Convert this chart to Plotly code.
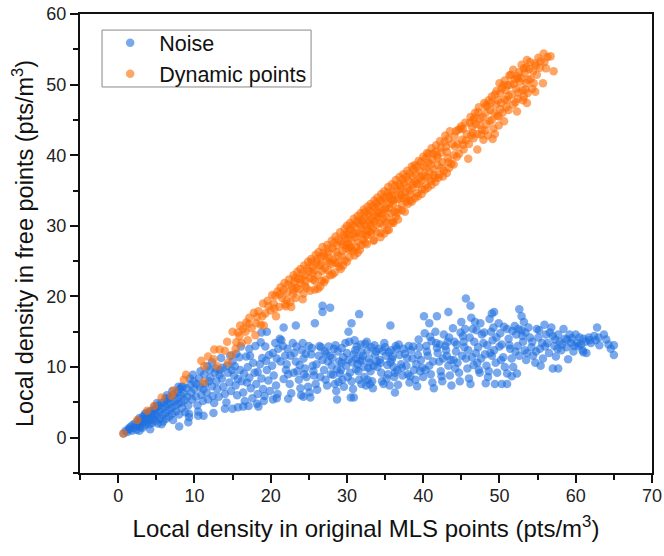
import plotly.graph_objects as go

FONT = "Liberation Sans, Arial, sans-serif"

noise_edge_low = [(0.7,0.6),(1.5,1.2),(2.8,1.0),(4.2,1.2),(5.7,1.9),(8.0,1.6),(9.2,2.2),(9.3,2.9),(10.5,3.1),(11.2,3.1),(12.5,3.5),(14.0,4.1),(15.0,4.1),(15.7,4.3),(16.4,4.4),(17.1,4.5),(18.2,4.8),(18.4,4.4),(19.1,5.2),(20.3,5.4),(20.8,5.6),(22.3,5.5),(24.0,6.0),(24.3,5.8),(25.2,5.7),(28.7,5.4),(30.5,5.7),(30.9,5.7)]
noise_edge_high = [(26.8,18.7),(26.8,17.8),(27.8,18.4),(25.8,16.2),(23.3,15.9),(21.7,15.6),(19.5,15.0),(18.8,14.9),(31.6,17.5),(30.6,16.2),(30.2,15.0),(35.7,15.9),(40.1,17.2),(40.8,16.2),(41.8,17.2),(43.3,17.8),(45.6,19.7),(46.2,18.7),(49.3,17.8),(49.0,17.6),(52.6,18.2),(52.9,17.2),(53.2,16.4)]
noise_start = [(1.0,1.0),(1.2,0.8),(1.4,1.3),(1.6,1.5),(1.8,1.0),(1.9,1.8),(2.1,1.4),(2.2,2.0),(2.4,1.1),(2.5,1.7),(2.6,2.4),(2.7,2.0),(2.9,1.5),(3.0,2.6),(3.1,2.1),(3.2,1.4),(3.3,3.0),(3.4,2.4),(3.5,1.8),(3.6,3.3),(3.7,2.8),(3.8,2.2),(3.9,3.6),(4.0,3.0),(4.1,1.9),(4.2,2.5),(4.3,3.8),(4.4,3.3),(4.5,2.1),(4.6,2.8),(4.7,3.9),(4.8,3.4),(4.9,2.4),(5.0,4.2),(5.1,3.1),(5.2,2.0),(5.3,4.5),(5.4,3.7),(5.5,2.7),(5.6,4.9),(5.7,4.1),(5.8,3.2),(5.9,2.3),(6.0,5.0),(6.1,4.4),(6.2,3.5),(6.3,2.7),(6.4,5.4),(6.5,4.7),(6.6,3.9),(6.7,3.0),(6.8,5.7),(6.9,5.0),(7.0,4.2),(7.1,3.4),(7.2,2.5),(7.3,6.1),(7.4,5.2),(7.5,4.5),(7.6,3.7),(7.7,6.4),(7.8,5.6),(7.9,4.8),(8.0,3.3),(8.1,6.9),(8.2,6.0),(8.3,5.0),(8.4,4.2),(8.5,7.2),(8.6,6.3),(8.7,5.3),(8.8,3.6),(9.0,7.0),(9.1,5.8),(9.2,4.6),(9.3,3.4)]
noise_rise = [(9.5,7.5),(9.6,6.4),(9.7,5.4),(9.9,8.0),(10.0,6.9),(10.2,5.8),(10.4,4.6),(10.5,3.7),(10.6,8.4),(10.7,7.2),(10.9,6.1),(11.1,5.2),(11.3,9.0),(11.4,7.6),(11.6,6.4),(11.8,5.4),(12.0,9.6),(12.1,8.5),(12.3,7.3),(12.4,5.9),(12.6,4.9),(12.7,9.2),(12.9,8.0),(13.0,6.9),(13.2,5.8),(13.4,9.6),(13.6,8.4),(13.8,7.2),(14.0,6.2),(14.2,5.0),(14.4,9.2),(14.6,7.8),(14.8,6.6),(15.0,10.8),(15.2,8.8),(15.4,7.4),(15.6,6.0),(15.9,11.4),(16.0,9.6),(16.2,8.0),(16.4,6.4),(16.6,5.2),(16.8,11.5),(17.0,10.0),(17.2,8.5),(17.4,7.0),(17.6,5.6),(17.9,9.2),(18.1,7.6),(18.3,6.2),(18.6,10.4),(18.8,8.4),(19.0,6.9),(19.2,5.9),(19.5,9.6),(19.7,8.1),(19.9,6.6),(20.2,10.2),(20.4,8.8),(20.7,7.4),(20.9,6.2)]
noise_20_30 = [(21.0,12.6),(21.2,14.0),(21.4,13.8),(21.6,13.0),(21.9,11.6),(22.1,10.4),(22.3,9.0),(22.5,7.6),(22.7,6.3),(22.9,13.4),(23.1,12.0),(23.3,10.8),(23.5,9.4),(23.7,8.2),(23.9,7.0),(24.1,12.4),(24.3,11.2),(24.5,9.8),(24.7,8.6),(24.9,7.2),(25.1,6.4),(25.3,11.8),(25.5,10.2),(25.7,8.8),(25.9,7.6),(26.1,6.8),(26.4,13.0),(26.6,12.8),(26.8,11.0),(27.0,9.6),(27.2,8.2),(27.4,7.4),(27.6,12.9),(27.8,11.6),(28.0,10.2),(28.2,8.9),(28.4,7.6),(28.6,6.6),(28.8,12.2),(29.0,10.8),(29.2,9.6),(29.4,8.2),(29.6,7.2),(29.8,13.4),(30.0,12.0),(30.2,11.0),(30.4,9.2),(30.6,8.0),(30.8,6.9),(24.2,13.4),(25.0,13.0),(22.2,12.6),(20.8,11.2),(23.0,9.2),(26.0,10.4),(27.5,10.8),(28.5,13.1),(29.5,11.4)]
noise_30_40 = [(31.0,13.8),(31.1,12.4),(31.2,11.2),(31.4,10.4),(31.5,9.4),(31.6,8.2),(31.8,13.2),(31.9,12.1),(32.0,11.0),(32.2,10.0),(32.3,8.6),(32.5,7.4),(32.6,13.6),(32.7,12.4),(32.9,11.2),(33.0,10.6),(33.1,9.4),(33.3,8.0),(33.4,7.0),(33.6,13.1),(33.7,11.8),(33.9,10.8),(34.0,10.0),(34.2,12.6),(34.3,11.0),(34.5,9.2),(34.6,8.0),(34.8,7.6),(35.0,12.8),(35.1,11.6),(35.3,10.3),(35.4,9.0),(35.6,7.4),(35.8,12.4),(35.9,11.1),(36.1,10.0),(36.2,8.6),(36.3,6.4),(36.4,13.0),(36.5,12.6),(36.6,9.6),(36.7,7.5),(36.9,11.7),(37.1,10.4),(37.3,8.8),(37.6,11.9),(37.8,10.2),(38.0,9.0),(38.2,7.8),(38.4,12.4),(38.6,11.2),(38.8,9.6),(39.0,8.2),(39.2,7.3),(39.4,13.9),(39.5,12.8),(39.7,11.0),(39.9,9.9),(40.0,8.6),(40.2,14.8),(40.4,13.0),(40.6,11.6),(40.8,10.2),(41.0,9.0),(41.2,7.8),(41.4,7.0)]
noise_40_50 = [(41.6,15.0),(41.7,13.4),(41.9,12.0),(42.1,10.8),(42.3,9.4),(42.5,8.0),(42.7,14.6),(42.9,13.0),(43.1,11.6),(43.3,10.2),(43.5,8.8),(43.7,7.4),(43.9,15.5),(44.1,13.6),(44.3,12.2),(44.5,10.6),(44.7,9.2),(44.8,8.0),(45.0,16.4),(45.2,14.4),(45.4,12.8),(45.6,11.2),(45.8,9.8),(46.0,8.4),(46.2,7.6),(46.3,17.0),(46.5,15.4),(46.7,13.6),(46.9,12.0),(47.1,10.6),(47.3,9.6),(47.5,16.2),(47.7,14.6),(47.9,13.4),(48.1,11.8),(48.3,10.2),(48.5,8.6),(48.2,7.7),(48.7,16.8),(48.9,15.0),(49.1,13.8),(49.3,12.4),(49.5,10.6),(49.7,9.2),(49.4,7.6),(49.9,16.2),(50.1,14.8),(50.3,13.2),(50.5,11.4),(50.7,10.0),(50.3,7.6),(51.0,7.6),(51.0,9.1),(51.6,8.7),(52.3,9.1),(42.2,13.2),(44.0,11.0),(46.4,11.4),(47.6,11.2),(49.0,11.6),(43.2,13.6),(45.3,13.6)]
noise_50_65 = [(51.0,15.4),(51.2,14.0),(51.4,12.6),(51.6,11.2),(51.8,10.0),(52.0,15.8),(52.2,14.6),(52.4,13.0),(52.6,11.6),(52.9,15.2),(53.1,13.6),(53.3,12.4),(53.5,11.0),(53.8,15.6),(54.0,14.2),(54.2,12.8),(54.4,11.6),(54.7,10.6),(54.9,15.4),(55.1,14.2),(55.3,12.6),(55.4,10.2),(55.7,11.2),(55.9,16.0),(56.1,14.6),(56.3,13.4),(56.5,12.0),(56.8,15.6),(57.0,14.4),(57.2,13.0),(57.4,11.5),(57.0,9.8),(57.7,9.8),(57.7,14.6),(57.9,13.6),(58.1,12.4),(58.4,15.4),(58.6,14.0),(58.8,12.8),(59.0,11.1),(59.2,14.6),(59.4,13.4),(59.7,12.2),(60.0,14.6),(60.2,13.4),(60.5,14.2),(60.7,13.2),(61.0,12.1),(61.4,12.0),(61.3,13.6),(61.7,14.2),(62.0,13.4),(62.4,14.4),(62.8,15.6),(63.0,14.2),(63.1,13.1),(63.7,14.6),(64.0,13.9),(64.3,13.2),(64.6,12.6),(65.0,13.1),(65.0,11.7)]
noise_fill_a = [(29.3,12.7),(31.3,12.9),(30.7,10.7),(32.4,13.3),(29.1,9.1),(33.8,12.2),(31.7,10.9),(30.3,13.6),(34.9,13.4),(32.8,9.9),(28.1,11.3),(33.2,12.8),(27.1,12.2),(30.9,11.8),(35.5,12.1),(31.2,9.7),(34.4,10.6),(29.9,10.2),(32.1,11.6),(36.8,13.2),(33.5,10.2),(37.4,12.6),(30.1,8.6),(28.9,7.9),(35.2,8.4),(36.0,11.5),(38.1,13.0),(32.7,8.2),(34.7,12.3),(37.9,11.3),(39.1,10.4),(31.9,7.6),(33.0,7.6),(38.7,12.9),(36.3,9.2),(35.7,10.7),(37.2,9.9),(39.6,9.4),(40.5,12.2),(41.3,10.8),(38.3,8.7),(40.3,9.6),(41.8,12.7),(42.6,11.2),(39.3,11.7),(43.0,12.4),(42.4,8.7),(43.6,11.0),(44.4,13.2),(41.1,13.7),(40.9,14.3),(44.2,9.8),(45.1,11.6),(45.9,12.4),(44.9,14.9),(46.1,14.2),(43.4,14.2),(46.6,10.3),(47.2,12.8),(47.0,15.2),(45.5,15.4),(48.4,13.1),(48.0,14.9),(46.8,16.4),(48.8,12.0),(49.6,14.2),(49.2,15.6),(50.0,12.9),(47.4,9.2),(50.6,15.7),(48.6,9.4),(50.2,11.0),(51.3,13.1),(51.7,15.1),(52.1,12.2),(52.5,15.4),(53.0,14.4),(53.6,12.0),(53.4,14.9),(54.3,13.6),(54.8,12.2),(55.2,15.2),(55.6,13.4),(56.0,12.9),(56.6,14.9),(57.3,13.9),(57.6,12.6),(58.2,13.2),(58.9,13.9),(59.5,14.1),(59.8,13.0),(60.4,13.0),(61.0,14.0),(61.8,13.8),(62.6,13.8),(60.9,12.4)]
noise_fill_b = [(11.2,6.9),(12.8,9.8),(10.3,7.6),(13.3,8.9),(14.3,10.2),(11.9,8.0),(15.3,10.1),(13.7,9.9),(16.5,9.1),(14.9,9.6),(17.3,11.6),(15.7,8.3),(18.3,9.3),(16.9,7.8),(18.9,11.3),(17.7,10.6),(19.4,10.9),(20.3,12.0),(19.8,11.7),(18.0,13.0),(19.3,12.9),(20.6,13.4),(21.3,10.8),(22.6,11.6),(21.7,8.3),(23.4,12.9),(22.0,9.6),(24.6,11.9),(23.8,10.3),(25.4,12.7),(24.4,9.0),(26.3,11.6),(25.6,9.4),(27.3,11.9),(26.5,8.6),(27.9,9.0),(28.3,12.6),(29.3,10.6),(28.7,9.7),(16.1,12.9),(17.2,12.6),(18.7,13.5),(8.3,7.2),(9.4,8.4),(10.8,9.4),(6.4,6.0),(7.1,6.6),(5.1,4.9),(3.5,3.4),(2.8,2.8),(4.8,4.4),(6.2,5.6),(7.9,7.2),(9.8,8.9),(11.7,10.1),(12.3,10.7),(13.5,11.3),(14.7,11.6),(15.5,11.9)]

dynamic_low = [(0.7,0.6),(2.5,2.5),(3.8,3.8),(4.7,4.5),(5.7,5.7),(7.0,5.9),(7.3,6.7),(8.6,8.2),(8.9,8.9),(11.2,7.9),(10.9,10.9),(11.3,10.1),(11.8,11.5),(12.5,11.1),(13.0,10.1),(12.6,12.5),(13.3,12.5),(14.0,12.3),(14.3,13.6),(15.0,15.0),(14.4,10.6),(14.9,11.7),(15.5,13.5),(15.4,12.6),(16.0,15.9),(16.8,16.3),(15.9,14.4),(16.2,13.4),(16.7,15.0),(17.0,13.8),(17.2,17.0),(17.5,15.5),(17.8,17.7),(18.1,16.2),(18.4,17.9),(18.0,14.5),(18.7,16.0),(19.0,19.0),(19.3,17.6),(19.6,19.4),(20.0,18.0),(20.2,20.2),(20.4,19.0),(20.7,17.2),(20.9,20.7),(21.1,18.5)]
dynamic_20_30 = [(21.3,21.3),(21.5,19.8),(21.8,21.9),(22.0,18.6),(22.2,20.6),(22.4,22.4),(22.6,19.2),(22.8,21.4),(23.0,23.0),(23.1,22.0),(23.3,19.8),(23.5,23.5),(23.7,21.0),(23.9,23.9),(24.0,22.4),(24.2,19.6),(24.4,24.4),(24.5,23.0),(24.7,21.2),(24.9,24.9),(25.0,23.6),(25.2,20.8),(25.3,25.3),(25.5,24.2),(25.6,22.4),(25.8,21.0),(25.9,25.9),(26.0,24.8),(26.2,23.0),(26.3,26.3),(26.5,21.4),(26.6,25.6),(26.7,22.2),(26.8,27.0),(27.0,25.8),(27.1,24.0),(27.2,22.4),(27.4,27.3),(27.5,26.2),(27.7,24.8),(27.8,23.0),(28.0,27.9),(28.1,26.8),(28.2,25.2),(28.4,23.4),(28.5,28.5),(28.7,27.2),(28.8,25.8),(29.0,24.2),(29.1,29.1),(29.2,27.8),(29.4,26.4),(29.5,24.4),(29.7,29.6),(29.8,28.4),(29.9,26.8)]
dynamic_30_36 = [(30.0,30.0),(30.1,28.8),(30.2,27.4),(30.3,25.6),(30.4,30.4),(30.5,29.4),(30.6,28.0),(30.8,26.4),(30.9,31.0),(31.0,29.9),(31.1,28.4),(31.2,27.0),(31.4,31.4),(31.5,30.4),(31.6,29.0),(31.7,26.6),(31.8,31.8),(31.9,30.8),(32.0,29.6),(32.1,28.0),(32.2,32.3),(32.3,31.2),(32.4,30.0),(32.5,28.6),(32.6,27.4),(32.7,32.7),(32.8,31.6),(32.9,30.4),(33.0,29.2),(33.1,33.1),(33.2,32.0),(33.3,31.0),(33.4,29.6),(33.5,28.0),(33.6,33.6),(33.7,32.6),(33.8,31.4),(33.9,30.2),(34.0,34.0),(34.1,32.8),(34.2,31.8),(34.3,30.4),(34.4,29.0),(34.5,34.5),(34.6,33.4),(34.7,32.2),(34.8,31.0),(34.9,34.9),(35.0,33.8),(35.1,32.6),(35.2,31.2),(35.3,29.4),(35.4,35.5),(35.5,34.2),(35.6,33.2),(35.7,31.8),(35.8,30.4),(35.9,35.9),(36.0,34.8),(36.1,33.6),(36.2,32.0),(36.1,30.4)]
dynamic_36_44 = [(36.4,36.5),(36.5,35.0),(36.6,33.8),(36.7,32.4),(36.9,36.9),(37.0,35.6),(37.1,34.4),(37.2,33.0),(37.4,37.3),(37.5,36.0),(37.6,34.8),(37.8,33.4),(37.9,37.8),(38.0,36.4),(38.2,35.0),(38.3,33.6),(38.5,38.4),(38.6,37.0),(38.6,35.4),(38.9,38.6),(39.0,37.4),(39.1,36.0),(39.2,34.6),(39.4,39.2),(39.5,37.8),(39.7,36.4),(39.8,35.2),(40.0,39.8),(40.1,38.4),(40.2,37.0),(40.4,35.8),(40.5,40.3),(40.7,39.0),(40.8,37.6),(41.0,36.4),(41.1,41.0),(41.2,39.4),(41.4,38.0),(41.5,36.8),(41.7,41.4),(41.8,40.0),(41.9,38.6),(42.1,37.2),(42.2,42.0),(42.4,40.4),(42.5,39.0),(42.7,37.8),(42.9,42.8),(43.0,41.2),(43.2,39.6),(43.4,38.2),(43.7,38.8),(43.5,43.4),(43.8,41.6),(44.0,40.0),(44.3,43.4)]
dynamic_44_50 = [(44.5,41.6),(44.7,40.2),(44.9,43.8),(45.1,42.2),(45.3,40.8),(45.9,39.5),(45.5,44.6),(45.7,43.0),(46.0,41.6),(46.2,45.4),(46.4,44.0),(46.6,42.4),(46.8,46.0),(46.9,44.4),(47.1,40.8),(47.1,43.0),(47.3,46.8),(47.5,45.2),(47.7,43.6),(47.9,42.2),(48.0,47.4),(48.2,46.0),(48.3,44.4),(48.5,42.8),(48.6,47.8),(48.8,46.4),(49.0,45.0),(49.1,42.3),(49.2,43.8),(49.4,43.0),(49.4,48.6),(49.5,47.2),(49.7,45.6),(49.9,44.2),(50.0,50.2),(50.1,48.8),(50.2,47.4),(50.4,46.0),(50.6,44.8),(50.7,50.6),(50.8,49.2),(51.0,47.8),(51.2,46.4)]
dynamic_50_57 = [(51.3,51.3),(51.4,50.0),(51.6,48.6),(51.8,47.2),(51.8,52.1),(52.0,50.8),(52.2,49.4),(52.3,46.2),(52.4,48.0),(52.6,51.8),(52.7,50.4),(52.9,52.8),(53.0,49.2),(53.1,47.8),(53.3,51.6),(53.5,50.2),(53.6,53.5),(53.6,47.4),(53.7,48.8),(53.9,52.2),(54.1,50.8),(54.3,49.4),(54.6,53.0),(54.7,49.0),(54.9,51.4),(55.1,53.8),(55.3,52.4),(55.7,50.2),(55.8,54.4),(55.9,53.2),(56.1,52.3),(56.7,54.0),(57.1,51.9)]
dynamic_fill_a = [(20.6,20.1),(21.7,20.9),(22.3,21.7),(23.2,22.6),(22.9,20.3),(24.1,23.3),(23.6,22.5),(24.8,24.0),(25.4,24.9),(24.6,22.2),(26.1,25.3),(25.7,23.7),(26.9,26.2),(26.4,24.4),(27.6,26.8),(27.3,25.1),(28.3,27.6),(28.0,24.6),(28.9,28.1),(28.6,26.3),(29.6,28.7),(29.3,25.7),(30.2,29.3),(29.8,27.3),(30.7,30.1),(30.4,27.0),(31.3,30.7),(30.9,28.9),(31.8,30.1),(31.5,27.7),(32.3,31.9),(32.0,28.8),(32.9,32.1),(32.6,29.4),(33.4,32.8),(33.0,30.8),(33.9,33.2),(33.6,30.7),(34.4,33.6),(34.1,31.2),(34.9,34.1),(34.6,31.7),(35.4,34.8),(35.1,30.5),(35.9,34.3),(35.6,32.5),(36.3,35.7),(36.0,33.1),(36.9,35.9),(36.6,31.9),(37.3,36.6),(37.0,34.9),(37.8,36.9),(37.4,33.9),(38.2,37.4),(37.9,35.4),(38.7,38.0),(38.3,34.4),(39.2,38.4),(38.9,36.3),(39.7,39.0),(39.4,35.9),(40.3,39.5),(39.9,37.1),(40.7,40.2),(40.4,38.1),(41.3,40.2),(41.0,38.7)]
dynamic_fill_b = [(17.1,16.1),(18.2,17.1),(18.9,17.2),(19.7,18.6),(20.5,18.3),(19.1,15.9),(16.4,15.4),(15.7,14.9),(41.6,40.5),(42.3,41.1),(41.9,39.6),(42.8,41.9),(43.3,42.3),(43.1,40.5),(44.1,42.7),(44.6,43.6),(44.2,41.2),(45.2,43.7),(45.6,42.1),(46.1,44.6),(46.5,43.2),(46.7,45.3),(47.4,44.3),(47.2,46.1),(47.8,45.4),(48.1,43.5),(48.4,46.9),(48.9,47.5),(49.3,46.0),(49.8,47.8),(49.6,49.1),(50.3,49.5),(50.1,46.5),(50.7,47.9),(51.1,49.9),(51.5,51.4),(51.2,48.4),(51.9,50.1),(52.3,51.2),(52.5,48.9),(52.9,50.9),(53.2,52.3),(53.4,49.3),(53.8,50.7),(54.0,53.2),(54.4,51.9)]
dynamic_fill_c = [(21.9,18.9),(22.7,18.5),(23.4,21.2),(24.3,20.4),(25.1,22.6),(25.8,22.2),(26.7,23.6),(26.2,21.1),(27.5,23.7),(27.0,22.0),(28.1,23.1),(28.8,24.7),(29.2,23.9),(29.7,25.1),(30.0,24.9),(30.6,26.9),(30.2,28.2),(31.0,25.8),(31.4,26.2),(31.9,27.3),(32.4,27.6),(32.7,28.7),(33.2,29.0),(33.5,27.9),(33.9,29.1),(34.4,28.4),(34.8,30.1),(34.9,28.9),(35.5,29.4),(36.0,30.6),(36.4,31.3),(36.7,30.9),(37.2,32.2),(37.6,32.0),(38.0,33.1),(38.5,33.4),(38.9,33.9),(39.3,34.2),(39.8,34.5),(40.2,35.1),(40.6,35.4),(41.1,35.8),(41.6,36.2),(42.0,36.8),(42.6,37.0),(43.1,37.5),(44.0,38.7),(21.2,20.3),(22.1,19.5),(23.0,20.9),(23.9,21.9),(24.5,21.5),(25.5,23.3),(26.6,24.5),(27.7,25.5),(28.5,24.8),(29.4,27.4),(30.3,26.6),(31.2,28.9),(32.1,30.7),(33.1,30.0),(34.0,31.9),(35.0,32.4),(35.8,33.7),(36.8,33.9),(37.7,34.0),(38.6,35.9),(39.6,36.8),(40.6,36.9),(41.4,37.2),(42.4,38.2),(43.3,39.0),(44.4,39.8),(45.2,41.5),(46.3,42.8),(47.6,42.9),(48.7,44.9),(49.9,45.5),(50.9,46.8),(52.1,47.5),(53.2,48.3),(54.5,50.2),(45.0,44.1),(46.6,45.0),(48.2,47.1),(49.0,48.3),(50.5,49.9),(52.4,50.9),(53.5,52.4),(54.8,52.7),(55.4,53.3),(56.3,53.9)]

noise_groups = [noise_edge_low, noise_edge_high, noise_start, noise_rise, noise_20_30, noise_30_40, noise_40_50, noise_50_65, noise_fill_a, noise_fill_b]
dynamic_groups = [dynamic_low, dynamic_20_30, dynamic_30_36, dynamic_36_44, dynamic_44_50, dynamic_50_57, dynamic_fill_a, dynamic_fill_b, dynamic_fill_c]
noise_pts = [p for g in noise_groups for p in g]
dynamic_pts = [p for g in dynamic_groups for p in g]

x_ticks = [0, 10, 20, 30, 40, 50, 60, 70]
y_ticks = [0, 10, 20, 30, 40, 50, 60]

fig = go.Figure()
fig.add_trace(go.Scatter(x=[p[0] for p in noise_pts], y=[p[1] for p in noise_pts], mode="markers", name="Noise",
                         marker=dict(color="#1f6fe0", size=8.5, opacity=0.6, line=dict(width=0))))
fig.add_trace(go.Scatter(x=[p[0] for p in dynamic_pts], y=[p[1] for p in dynamic_pts], mode="markers", name="Dynamic points",
                         marker=dict(color="#ff6a00", size=8.5, opacity=0.6, line=dict(width=0))))

axis_common = dict(showgrid=False, zeroline=False, showline=True, mirror=True, linecolor="#111", linewidth=2,
                   ticks="outside", ticklen=8, tickwidth=2, tickcolor="#111",
                   tickfont=dict(family=FONT, size=18, color="#222"))
fig.update_xaxes(range=[-5, 70], tickvals=x_ticks, ticklabelstandoff=-3,
                 minor=dict(tickvals=[-5, 5, 15, 25, 35, 45, 55, 65], ticks="outside", ticklen=5, tickwidth=2, tickcolor="#111"),
                 title=dict(text="Local density in original MLS points (pts/m<sup>3</sup>)", font=dict(family=FONT, size=24, color="#111"), standoff=16),
                 **axis_common)
fig.update_yaxes(range=[-5, 60], tickvals=y_ticks,
                 minor=dict(tickvals=[-5, 5, 15, 25, 35, 45, 55], ticks="outside", ticklen=5, tickwidth=2, tickcolor="#111"),
                 title=dict(text="Local density in free points (pts/m<sup>3</sup>)", font=dict(family=FONT, size=23.5, color="#111"), standoff=6),
                 **axis_common)
fig.add_shape(type="rect", xref="paper", yref="paper", x0=0.0385, x1=0.404, y0=0.841, y1=0.965,
              line=dict(color="#888", width=1))
fig.update_layout(width=664, height=556, margin=dict(l=80, r=12, t=14, b=83, autoexpand=False),
                  paper_bgcolor="white", plot_bgcolor="white", showlegend=True,
                  legend=dict(x=0.037, y=0.982, xanchor="left", yanchor="top", bgcolor="rgba(0,0,0,0)", borderwidth=0,
                              font=dict(family=FONT, size=21.5, color="#111"), itemwidth=48, itemsizing="trace"))
fig.write_html("out.html", config=dict(displayModeBar=False),
               post_script="document.body.style.margin='0';document.documentElement.style.overflow='hidden';")
